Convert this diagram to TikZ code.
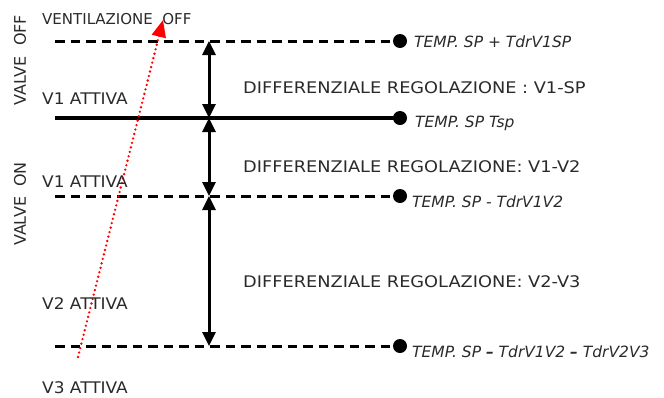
\documentclass[tikz,border=0pt]{standalone}
\usepackage{fontspec}
\setmainfont{DejaVu Sans}
\newfontfamily\widefont{DejaVu Sans}[FakeStretch=1.11]
\newfontfamily\midfont{DejaVu Sans}[FakeStretch=1.06]
\usetikzlibrary{arrows.meta}
\definecolor{txt}{HTML}{2A2A2A}
\tikzset{
  lbl/.style={anchor=base west,inner sep=0pt,text=txt,font=\fontsize{15}{18}\selectfont},
  wlbl/.style={anchor=base west,inner sep=0pt,text=txt,font=\widefont\fontsize{16}{19}\selectfont},
  mlbl/.style={anchor=base west,inner sep=0pt,text=txt,font=\midfont\fontsize{16}{19}\selectfont},
  tlbl/.style={anchor=base west,inner sep=0pt,text=txt,font=\fontsize{15.5}{19}\selectfont\itshape},
  vlbl/.style={anchor=center,inner sep=0pt,text=txt,rotate=90,font=\fontsize{16}{19}\selectfont},
  dot/.style={circle,fill=black,inner sep=0pt,minimum size=14pt},
  dline/.style={line width=3pt,dash pattern=on 9.5pt off 6pt},
  sline/.style={line width=3.5pt},
  darr/.style={line width=3pt,{Triangle[length=14pt,width=13pt]}-{Triangle[length=14pt,width=13pt]}},
  redarr/.style={red,line width=2.6pt,line cap=round,dash pattern=on 0pt off 4.6pt,-{Triangle[length=17pt,width=14pt]}}
}
\begin{document}
\begin{tikzpicture}[x=1pt,y=-1pt]
\useasboundingbox (0,0) rectangle (664,397);
% left ends
\coordinate (L1) at (55,41);
\coordinate (L2) at (55,118);
\coordinate (L3) at (55,196);
\coordinate (L4) at (55,346);
% dots
\node[dot] (d1) at (400,41) {};
\node[dot] (d2) at (400,118) {};
\node[dot] (d3) at (400,196) {};
\node[dot] (d4) at (400,346) {};
% lines
\draw[dline] (L1) -- (d1.center);
\draw[sline] (L2) -- (d2.center);
\draw[dline] (L3) -- (d3.center);
\draw[dline] (L4) -- (d4.center);
% vertical arrows
\coordinate (v1) at (209,41);
\coordinate (v2) at (209,118);
\coordinate (v3) at (209,196);
\coordinate (v4) at (209,346);
\draw[darr] (v1) -- (v2);
\draw[darr] (v2) -- (v3);
\draw[darr] (v3) -- (v4);
% red arrow
\coordinate (r0) at (78,357);
\coordinate (r1) at (163,20);
\draw[redarr] (r0) -- (r1);
% left labels
\node[lbl] (vent) at (42,24) {VENTILAZIONE\ \ OFF};
\node[mlbl] (a1) at (42,104) {V1 ATTIVA};
\node[mlbl] (a2) at (42,187) {V1 ATTIVA};
\node[mlbl] (a3) at (42,309) {V2 ATTIVA};
\node[mlbl] (a4) at (42,393.5) {V3 ATTIVA};
\node[vlbl] (voff) at (20,60) {VALVE\ \ OFF};
\node[vlbl] (von) at (20,204) {VALVE\ \ ON};
% differential labels
\node[wlbl] (df1) at (243,93) {DIFFERENZIALE REGOLAZIONE : V1-SP};
\node[wlbl] (df2) at (243,172) {DIFFERENZIALE REGOLAZIONE: V1-V2};
\node[wlbl] (df3) at (243,287) {DIFFERENZIALE REGOLAZIONE: V2-V3};
% right labels
\node[tlbl] (t1) at (414,47) {TEMP. SP + TdrV1SP};
\node[tlbl] (t2) at (415,127) {TEMP. SP Tsp};
\node[tlbl] (t3) at (412,207) {TEMP. SP - TdrV1V2};
\node[tlbl] (t4) at (412,357) {TEMP. SP \textbf{--} TdrV1V2 \textbf{--} TdrV2V3};
\end{tikzpicture}
\end{document}
